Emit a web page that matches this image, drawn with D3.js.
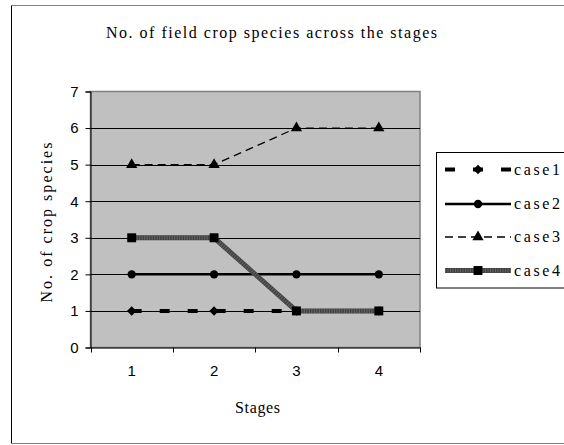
<!DOCTYPE html>
<html>
<head>
<meta charset="utf-8">
<script src="https://cdnjs.cloudflare.com/ajax/libs/d3/7.8.5/d3.min.js"></script>
<style>
  html, body { margin: 0; padding: 0; background: #fff; }
  svg { display: block; }
  .serif { font-family: "Liberation Serif", "Times New Roman", Times, serif; }
  .sans { font-family: "Liberation Sans", Arial, Helvetica, sans-serif; }
</style>
</head>
<body>
<script>
const categories = ["1", "2", "3", "4"];
const seriesNames = ["case1", "case2", "case3", "case4"];
const case1 = [1, 1, 1, 1];
const case2 = [2, 2, 2, 2];
const case3 = [5, 5, 6, 6];
const case4 = [3, 3, 1, 1];
const yTicks = [0, 1, 2, 3, 4, 5, 6, 7];
const titleText = "No. of field crop species across the stages";
const yLabel = "No. of crop species";
const xLabel = "Stages";

const W = 564, H = 445;
const svg = d3.select("body").append("svg").attr("width", W).attr("height", H);

// outer frame
svg.append("line").attr("x1", 11.5).attr("x2", W).attr("y1", 5.5).attr("y2", 5.5).attr("stroke", "#808080").attr("stroke-width", 1);
svg.append("line").attr("x1", 11.5).attr("x2", 11.5).attr("y1", 5.5).attr("y2", 443.5).attr("stroke", "#000").attr("stroke-width", 1);
svg.append("line").attr("x1", 11.5).attr("x2", W).attr("y1", 443.5).attr("y2", 443.5).attr("stroke", "#808080").attr("stroke-width", 1);

const plot = { left: 90.5, right: 420, top: 91.5, bottom: 347.5 };

const x = d3.scaleBand().domain(categories).range([plot.left, plot.right]).padding(0);
const y = d3.scaleLinear().domain([0, 7]).range([plot.bottom, plot.top]);
const cx = c => x(c) + x.bandwidth() / 2;

// plot background
svg.append("rect")
  .attr("x", plot.left).attr("y", plot.top)
  .attr("width", plot.right - plot.left).attr("height", plot.bottom - plot.top)
  .attr("fill", "#c0c0c0").attr("stroke", "#808080").attr("stroke-width", 1.5);

// gridlines
svg.append("g").selectAll("line").data(yTicks.filter(t => t > 0 && t < 7)).join("line")
  .attr("x1", plot.left).attr("x2", plot.right)
  .attr("y1", d => Math.round(y(d)) + 0.5).attr("y2", d => Math.round(y(d)) + 0.5)
  .attr("stroke", "#000").attr("stroke-width", 1);

// y axis
const yAxis = d3.axisLeft(y).tickValues(yTicks).tickSize(5).tickPadding(7).tickFormat(d3.format("d"));
const gy = svg.append("g").attr("transform", `translate(${plot.left},0)`).call(yAxis);
gy.attr("font-family", null).attr("font-size", null);
gy.select(".domain").attr("stroke", "#000").attr("stroke-width", 1);
gy.selectAll(".tick line").attr("stroke", "#000");
gy.selectAll("text").attr("class", "sans").style("font-size", "15px").attr("fill", "#000");

// x axis
const xAxis = d3.axisBottom(x).tickSize(0).tickPadding(18);
const gx = svg.append("g").attr("transform", `translate(0,${plot.bottom})`).call(xAxis);
gx.attr("font-family", null).attr("font-size", null);
gx.select(".domain").attr("stroke", "#000").attr("stroke-width", 1);
gx.selectAll("text").attr("class", "sans").style("font-size", "15px").attr("fill", "#000");
// boundary ticks
const bounds = categories.map(c => x(c)).concat([plot.right]);
gx.append("g").selectAll("line").data(bounds).join("line")
  .attr("x1", d => Math.round(d) + 0.5).attr("x2", d => Math.round(d) + 0.5)
  .attr("y1", 0).attr("y2", 5).attr("stroke", "#000");

// title
svg.append("text").attr("class", "serif").attr("x", 271.5).attr("y", 37.5)
  .attr("text-anchor", "middle").style("font-size", "16px")
  .attr("textLength", 331).attr("lengthAdjust", "spacing")
  .text(titleText);

// y label
svg.append("text").attr("class", "serif").attr("transform", "translate(52,222.5) rotate(-90)")
  .attr("text-anchor", "middle").style("font-size", "16px")
  .attr("textLength", 160).attr("lengthAdjust", "spacing")
  .text(yLabel);

// x label
svg.append("text").attr("class", "serif").attr("x", 257.5).attr("y", 413)
  .attr("text-anchor", "middle").style("font-size", "16px")
  .attr("textLength", 45).attr("lengthAdjust", "spacing")
  .text(xLabel);

// series styles
const seriesData = [case1, case2, case3, case4];
const styles = [
  { stroke: "#000", width: 4, dash: "10,18", marker: d3.symbolSquare, rot: 45, msize: 45, mfill: "#000" },
  { stroke: "#000", width: 2.5, dash: null, marker: d3.symbolCircle, rot: 0, msize: 55, mfill: "#000" },
  { stroke: "#000", width: 1.3, dash: "8,5", marker: d3.symbolTriangle, rot: 0, msize: 55, mfill: "#000" },
  { stroke: "#404040", width: 5, dash: null, marker: d3.symbolSquare, rot: 0, msize: 80, mfill: "#000", texture: true }
];

const line = d3.line().x((d, i) => cx(categories[i])).y(d => y(d));

seriesData.forEach((vals, si) => {
  const s = styles[si];
  const g = svg.append("g");
  g.append("path").datum(vals).attr("d", line)
    .attr("fill", "none").attr("stroke", s.stroke).attr("stroke-width", s.width)
    .attr("stroke-dasharray", s.dash);
  if (s.texture) {
    g.append("path").datum(vals).attr("d", line)
      .attr("fill", "none").attr("stroke", "#666").attr("stroke-width", s.width - 1)
      .attr("stroke-dasharray", "1,1.5");
  }
  g.selectAll("path.m").data(vals).join("path").attr("class", "m")
    .attr("transform", (d, i) => `translate(${cx(categories[i])},${y(d)}) rotate(${s.rot})`)
    .attr("d", d3.symbol().type(s.marker).size(s.msize))
    .attr("fill", s.mfill);
});

// legend
const lg = svg.append("g");
lg.append("rect").attr("x", 436.5).attr("y", 152.5).attr("width", 140).attr("height", 135.5)
  .attr("fill", "#fff").attr("stroke", "#000").attr("stroke-width", 1);
const legendY = [169.5, 204, 237, 270.5];
seriesNames.forEach((name, si) => {
  const s = styles[si];
  const yy = legendY[si];
  lg.append("line").attr("x1", 445).attr("x2", 511).attr("y1", yy).attr("y2", yy)
    .attr("stroke", s.stroke).attr("stroke-width", s.width).attr("stroke-dasharray", s.dash);
  if (s.texture) {
    lg.append("line").attr("x1", 445).attr("x2", 511).attr("y1", yy).attr("y2", yy)
      .attr("stroke", "#666").attr("stroke-width", s.width - 1).attr("stroke-dasharray", "1,1.5");
  }
  lg.append("path").attr("transform", `translate(478,${yy}) rotate(${s.rot})`)
    .attr("d", d3.symbol().type(s.marker).size(s.msize)).attr("fill", s.mfill);
  lg.append("text").attr("class", "serif").attr("x", 514).attr("y", yy + 5)
    .style("font-size", "16px")
    .attr("textLength", 46).attr("lengthAdjust", "spacing")
    .text(name);
});
</script>
</body>
</html>
